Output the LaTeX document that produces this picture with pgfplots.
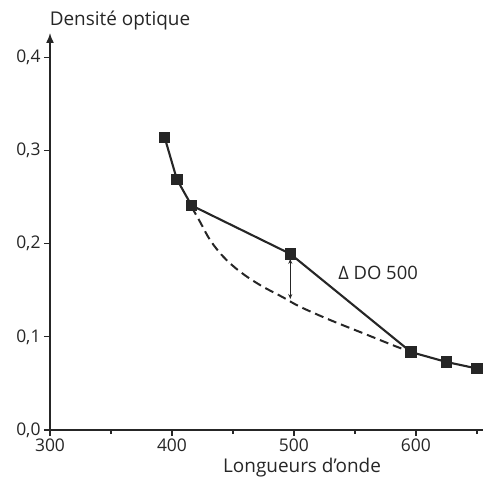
\documentclass[border=0pt]{standalone}
\usepackage{fontspec}
\setmainfont{Open Sans}
\usepackage{pgfplots}
\pgfplotsset{compat=1.18}
\usetikzlibrary{arrows.meta}
\begin{document}
\begin{tikzpicture}
\useasboundingbox (-50bp,-52bp) rectangle (434bp,430bp);
\begin{axis}[
    at={(0,0)}, anchor=south west,
    scale only axis,
    width=433bp, height=397bp,
    xmin=300, xmax=655,
    ymin=0, ymax=0.426,
    axis lines=left,
    axis line style={line width=1.5bp, black!85},
    x axis line style={-},
    y axis line style={-{Latex[length=10bp,width=8bp]}},
    xtick={300,400,500,600},
    minor xtick={350,450,550,650},
    ytick={0,0.1,0.2,0.3,0.4},
    tick align=outside,
    major tick length=6bp,
    minor tick length=4bp,
    tick style={line width=1.2bp, black!85},
    yticklabel style={/pgf/number format/.cd, use comma, fixed, fixed zerofill, precision=1},
    xticklabel style={yshift=1bp},
    /pgf/number format/assume math mode=true,
    ticklabel style={font=\fontsize{17.5}{19}\selectfont, text=black!85},
    clip=false,
]
% courbe de base (tirets)
\addplot[black!85, line width=2bp, dash pattern=on 9bp off 5bp, smooth, tension=0.6] coordinates {
    (416,0.2395) (423,0.2234) (431.3,0.2038) (442.2,0.1858) (455.9,0.1698)
    (472.3,0.1555) (491.4,0.1421) (505.1,0.1322) (529.7,0.118) (557,0.1037)
    (584.4,0.0893) (596,0.0840)
};
% spectre mesuré
\addplot[black!85, line width=2.1bp, mark=square*, mark size=4.6bp,
    mark options={solid, fill=black!85}] coordinates {
    (394,0.314) (404,0.269) (416,0.241) (497,0.189)
    (596,0.0836) (625,0.073) (650,0.066)
};
% delta DO
\addplot[black!85, line width=1.2bp, {Stealth[length=5bp,width=4bp]}-{Stealth[length=5bp,width=4bp]}, shorten <=5bp] coordinates {
    (497,0.189) (497,0.1405)
};
\node[font=\fontsize{18.5}{20}\selectfont, text=black!85] at (axis cs:569,0.169) {Δ DO 500};
\end{axis}
\node[font=\fontsize{19}{21}\selectfont, text=black!85] at (70bp,409bp) {Densité optique};
\node[font=\fontsize{19}{21}\selectfont, text=black!85] at (252bp,-38bp) {Longueurs d’onde};
\end{tikzpicture}
\end{document}
